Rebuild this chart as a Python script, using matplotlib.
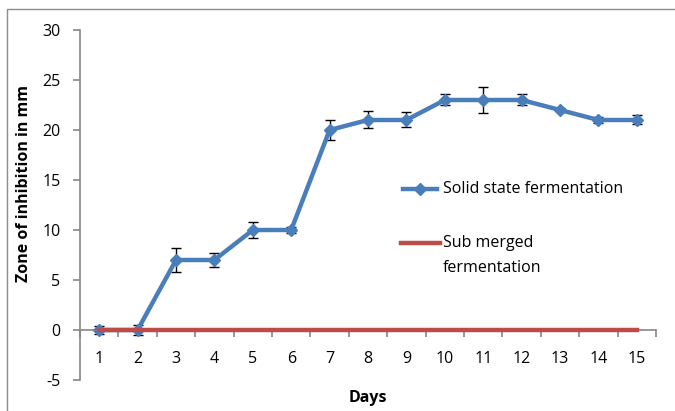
import matplotlib
matplotlib.use("Agg")
import matplotlib.pyplot as plt
from matplotlib.lines import Line2D
import numpy as np

plt.rcParams['font.family'] = ['Open Sans', 'DejaVu Sans']
plt.rcParams['axes.unicode_minus'] = False

days = list(range(1, 16))
solid = [0, 0, 7, 7, 10, 10, 20, 21, 21, 23, 23, 23, 22, 21, 21]
solid_err = [0.4, 0.5, 1.2, 0.7, 0.8, 0.3, 1.0, 0.85, 0.75, 0.55, 1.3, 0.55, 0.15, 0.3, 0.45]
submerged = [0] * 15

blue = '#4A7EBB'
red = '#BE4B48'
grey = '#868686'
fs = 11.5

fig = plt.figure(figsize=(6.75, 4.11), dpi=100)
# chart area border (left and top edges visible)
fig.add_artist(plt.Rectangle((7 / 675, -0.5), 2.0, 1.5 - 9 / 411, transform=fig.transFigure,
                             fill=False, ec='#8c8c8c', lw=1.0))
ax = fig.add_axes([80 / 675, 1 - 380 / 411, 576 / 675, 350 / 411])

ax.errorbar(days, solid, yerr=solid_err, fmt='none', ecolor='black', elinewidth=1.0,
            capsize=3.8, capthick=1.0, zorder=3)
ax.plot(days, solid, color=blue, lw=3.2, marker='D', ms=6, mfc=blue, mec=blue, zorder=4)
ax.plot(days, submerged, color=red, lw=3.2, zorder=5)

ax.set_xlim(0.5, 15.5)
ax.set_ylim(-5, 30)
ax.set_yticks(np.arange(-5, 31, 5))
ax.set_xticks(days)
ax.set_xticks(np.arange(0.5, 15.6, 1), minor=True)

for s in ['top', 'right']:
    ax.spines[s].set_visible(False)
ax.spines['bottom'].set_position(('data', 0))
for s in ['left', 'bottom']:
    ax.spines[s].set_color(grey)
    ax.spines[s].set_linewidth(1.2)

ax.tick_params(axis='y', direction='out', length=5, width=1.2, color=grey, pad=9, labelsize=fs)
ax.tick_params(axis='x', which='major', length=0, pad=15, labelsize=fs)
ax.tick_params(axis='x', which='minor', direction='out', length=5, width=1.2, color=grey)

ax.set_xlabel('Days', fontsize=fs, fontweight='bold')
ax.xaxis.set_label_coords(0.5, -0.028)
ax.set_ylabel('Zone of inhibition in mm', fontsize=fs, fontweight='bold')
ax.yaxis.set_label_coords(-0.083, 0.56)

# legend
def fx(px):
    return (px - 80) / 576

def fy(py):
    return (380 - py) / 350

ax.add_line(Line2D([fx(403), fx(437)], [fy(189), fy(189)], transform=ax.transAxes, color=blue, lw=3.2,
                   clip_on=False))
ax.add_line(Line2D([fx(420)], [fy(189)], transform=ax.transAxes, color=blue, marker='D', ms=6,
                   clip_on=False))
ax.text(fx(443), fy(189), 'Solid state fermentation', transform=ax.transAxes, fontsize=fs, va='center')
ax.add_line(Line2D([fx(401), fx(440)], [fy(243), fy(243)], transform=ax.transAxes, color=red, lw=3.2,
                   clip_on=False))
ax.text(fx(443), fy(243), 'Sub merged', transform=ax.transAxes, fontsize=fs, va='center')
ax.text(fx(443), fy(268), 'fermentation', transform=ax.transAxes, fontsize=fs, va='center')

fig.savefig('out.png', dpi=100)
